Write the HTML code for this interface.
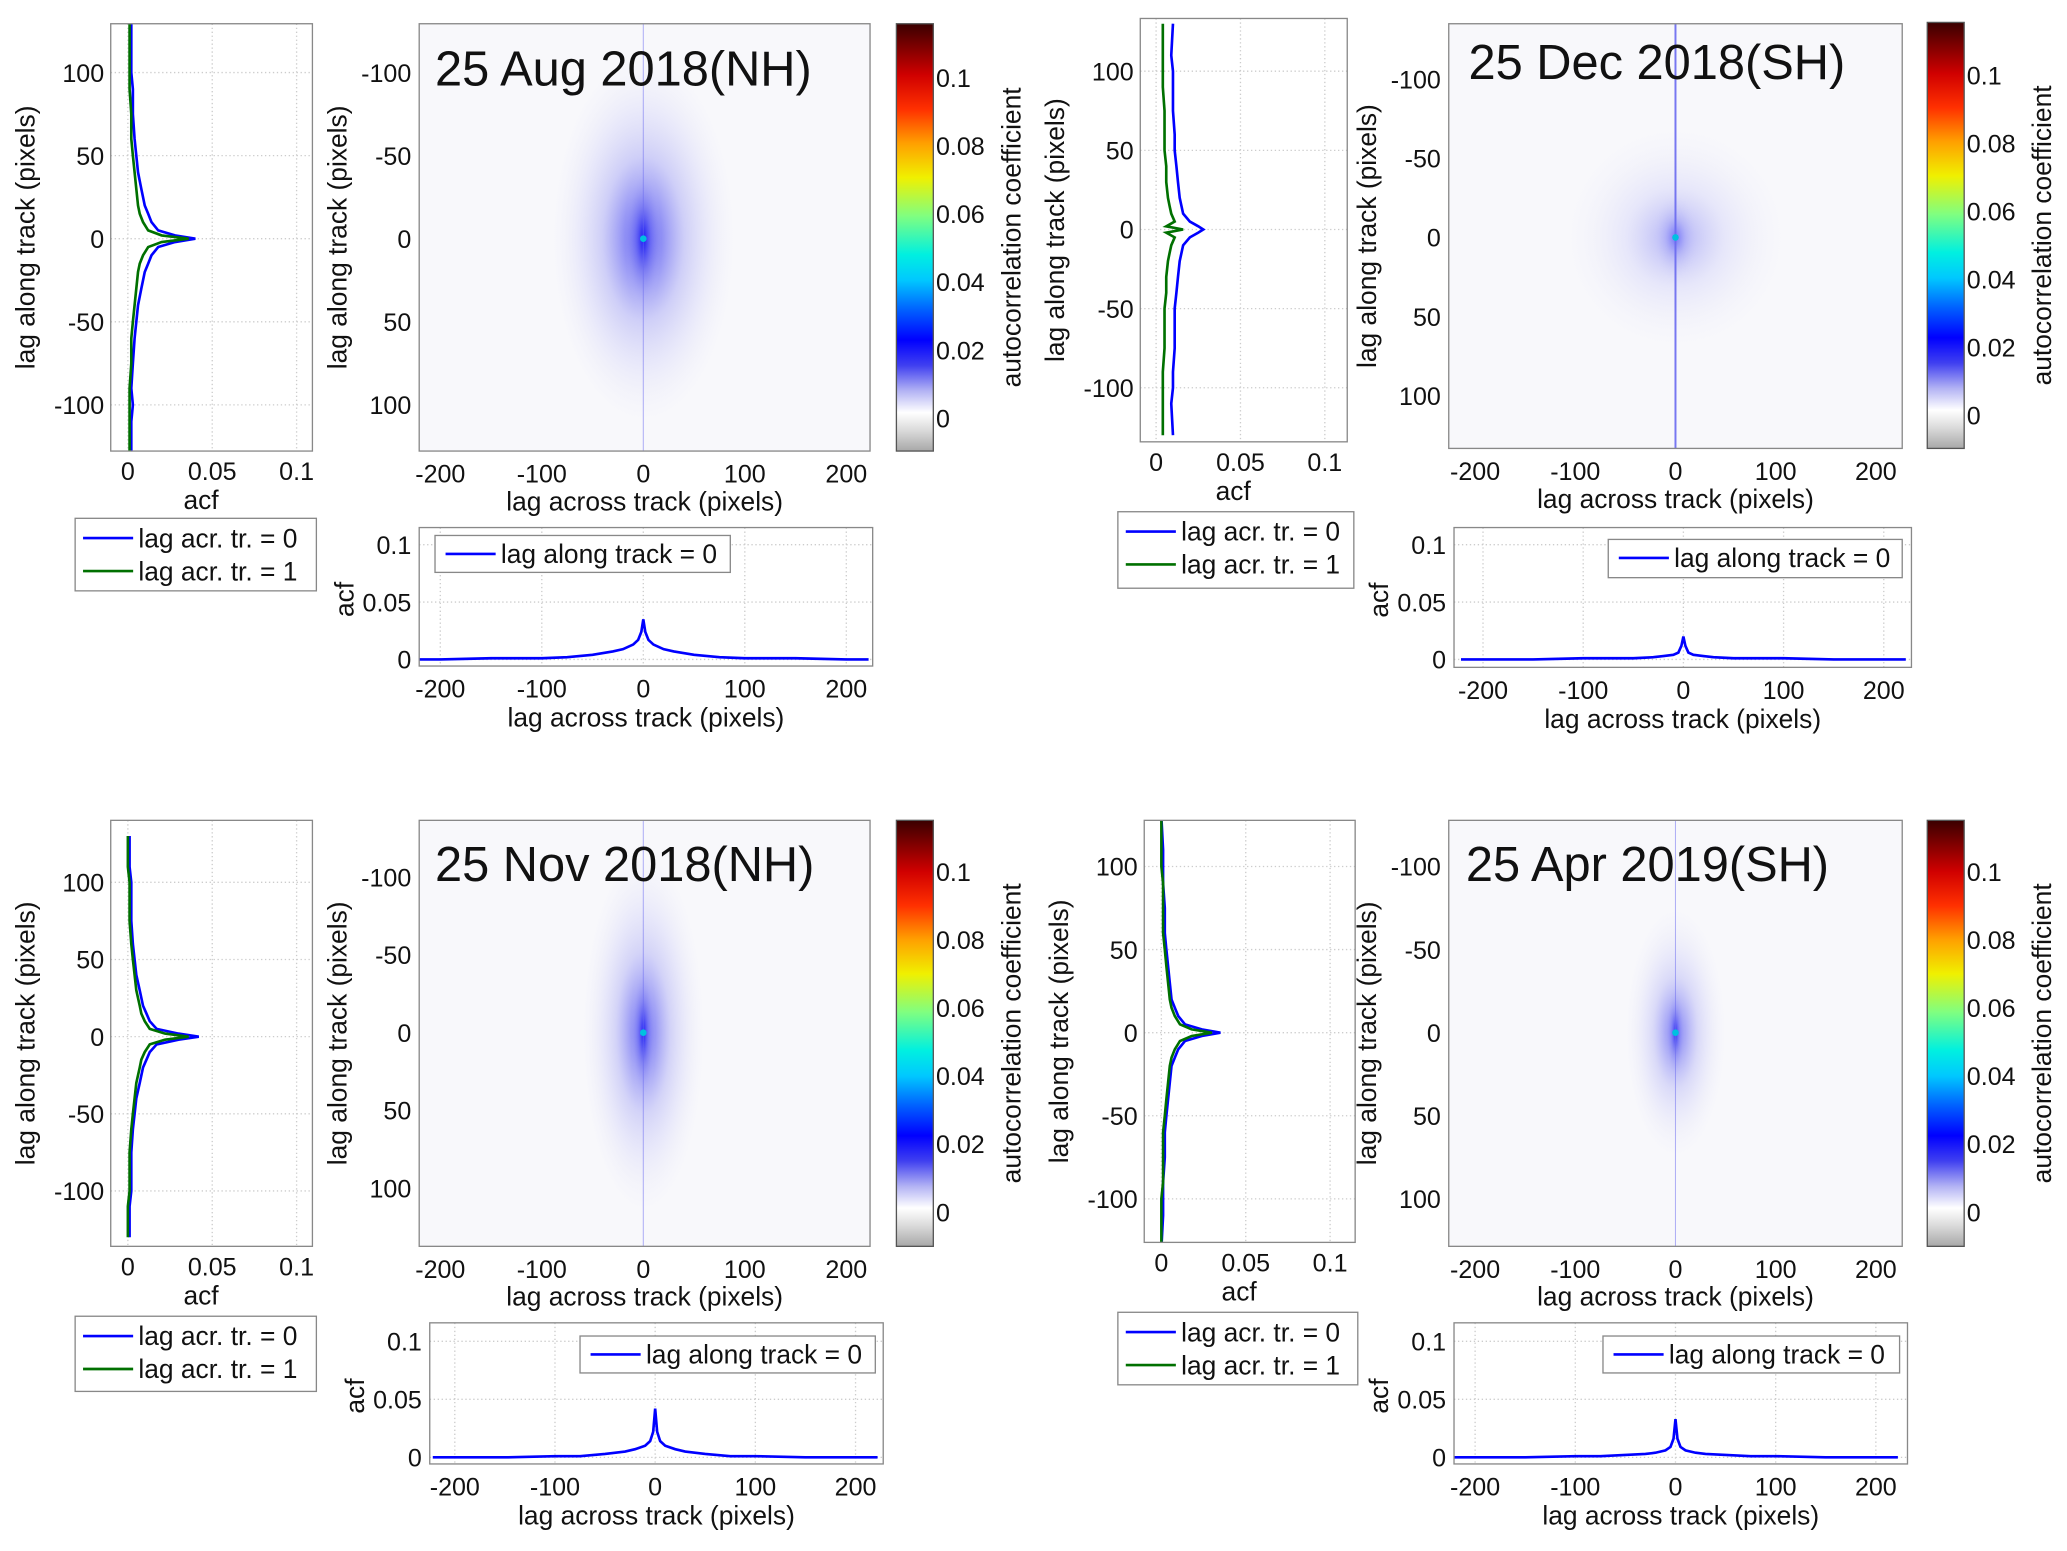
<!DOCTYPE html>
<html><head><meta charset="utf-8"><style>
html,body{margin:0;padding:0;background:#fff;}
svg{display:block;}
text{font-family:"Liberation Sans Narrow","Liberation Sans",sans-serif;fill:#111;}
.t{font-family:"Liberation Sans",sans-serif;}
</style></head><body>
<svg id="fig" width="2067" height="1551" viewBox="0 0 1568 1176" preserveAspectRatio="none" xmlns="http://www.w3.org/2000/svg">
<defs>
<linearGradient id="jet" x1="0" y1="1" x2="0" y2="0">
<stop offset="0" stop-color="#a8a8a8"/><stop offset="0.05" stop-color="#dcdcdc"/><stop offset="0.09" stop-color="#ffffff"/>
<stop offset="0.14" stop-color="#b4b4f4"/><stop offset="0.2" stop-color="#4040f0"/><stop offset="0.26" stop-color="#0000ff"/>
<stop offset="0.33" stop-color="#0060ff"/><stop offset="0.4" stop-color="#00c8ff"/><stop offset="0.46" stop-color="#00f0e0"/>
<stop offset="0.55" stop-color="#80ff80"/><stop offset="0.64" stop-color="#f0f000"/><stop offset="0.72" stop-color="#ffa000"/>
<stop offset="0.8" stop-color="#ff3000"/><stop offset="0.88" stop-color="#d00000"/><stop offset="1" stop-color="#3a0000"/>
</linearGradient>
<radialGradient id="blob">
<stop offset="0" stop-color="#1a1aff" stop-opacity="1"/><stop offset="0.15" stop-color="#3030f0" stop-opacity="0.8"/>
<stop offset="0.45" stop-color="#7070f0" stop-opacity="0.4"/><stop offset="0.75" stop-color="#a8a8f4" stop-opacity="0.18"/>
<stop offset="1" stop-color="#d0d0f8" stop-opacity="0"/>
</radialGradient>
</defs>
</svg>
<script>
// ---- data ----
const titles = ["25 Aug 2018(NH)","25 Dec 2018(SH)","25 Nov 2018(NH)","25 Apr 2019(SH)"];
const lagsAlong = [-130,-110,-100,-90,-75,-60,-50,-40,-30,-20,-15,-10,-5,-2,0,2,5,10,15,20,30,40,50,60,75,90,100,110,130];
const acfLag0 = [
 [0.002,0.002,0.003,0.002,0.003,0.004,0.005,0.006,0.008,0.010,0.012,0.014,0.018,0.028,0.040,0.028,0.018,0.014,0.012,0.010,0.008,0.006,0.005,0.004,0.003,0.003,0.002,0.002,0.002],
 [0.010,0.009,0.010,0.010,0.011,0.011,0.011,0.012,0.013,0.014,0.015,0.016,0.020,0.025,0.028,0.025,0.020,0.016,0.015,0.014,0.013,0.012,0.011,0.011,0.010,0.010,0.010,0.009,0.010],
 [0.001,0.001,0.002,0.002,0.002,0.003,0.004,0.005,0.007,0.009,0.011,0.013,0.017,0.030,0.042,0.030,0.017,0.013,0.011,0.009,0.007,0.005,0.004,0.003,0.002,0.002,0.002,0.001,0.001],
 [0.000,0.001,0.001,0.001,0.002,0.002,0.003,0.004,0.005,0.006,0.008,0.010,0.014,0.024,0.035,0.024,0.014,0.010,0.008,0.006,0.005,0.004,0.003,0.002,0.002,0.001,0.001,0.001,0.000]];
const acfLag1 = [
 [0.001,0.001,0.001,0.001,0.002,0.002,0.003,0.004,0.005,0.006,0.007,0.009,0.012,0.020,0.036,0.020,0.012,0.009,0.007,0.006,0.005,0.004,0.003,0.002,0.002,0.001,0.001,0.001,0.001],
 [0.004,0.004,0.004,0.004,0.005,0.005,0.005,0.006,0.006,0.007,0.008,0.009,0.011,0.006,0.016,0.006,0.011,0.009,0.008,0.007,0.006,0.006,0.005,0.005,0.005,0.004,0.004,0.004,0.004],
 [0.000,0.000,0.001,0.001,0.001,0.002,0.003,0.004,0.005,0.007,0.008,0.010,0.013,0.022,0.036,0.022,0.013,0.010,0.008,0.007,0.005,0.004,0.003,0.002,0.001,0.001,0.001,0.000,0.000],
 [0.000,0.000,0.000,0.001,0.001,0.001,0.002,0.003,0.004,0.005,0.006,0.008,0.011,0.018,0.030,0.018,0.011,0.008,0.006,0.005,0.004,0.003,0.002,0.001,0.001,0.001,0.000,0.000,0.000]];
const lagsAcross = [-222,-200,-150,-100,-75,-50,-30,-20,-10,-5,-2,0,2,5,10,20,30,50,75,100,150,200,222];
const acfAlong0 = [
 [0.000,0.000,0.001,0.001,0.002,0.004,0.007,0.009,0.013,0.017,0.024,0.035,0.024,0.017,0.013,0.009,0.007,0.004,0.002,0.001,0.001,0.000,0.000],
 [0.000,0.000,0.000,0.001,0.001,0.001,0.002,0.003,0.004,0.006,0.012,0.020,0.012,0.006,0.004,0.003,0.002,0.001,0.001,0.001,0.000,0.000,0.000],
 [0.000,0.000,0.000,0.001,0.001,0.003,0.005,0.007,0.010,0.014,0.022,0.042,0.022,0.014,0.010,0.007,0.005,0.003,0.001,0.001,0.000,0.000,0.000],
 [0.000,0.000,0.000,0.001,0.001,0.002,0.003,0.004,0.006,0.009,0.016,0.033,0.016,0.009,0.006,0.004,0.003,0.002,0.001,0.001,0.000,0.000,0.000]];
// blob extents (lag units): across, along, intensity
const blobAcross = [90,110,60,50];
const blobAlong = [110,70,115,75];
const blobStrength = [0.95,0.4,0.85,0.7];
const yTicksAlong = [-100,-50,0,50,100];
const xTicksAcross = [-200,-100,0,100,200];
const acfTicks = [0,0.05,0.1];
const cbTicks = [0,0.02,0.04,0.06,0.08,0.1];
const cbTickLabels = ["0","0.02","0.04","0.06","0.08","0.1"];

// ---- layout (display coords) ----
const P = [
 {L:{x0:84,x1:237,y0:18,y1:342,z:181,h:307,a0:97,a5:161}, H:{x0:318,x1:660,y0:18,y1:342,z:181,h:307,xz:488,x1h:565}, C:{x0:680,x1:708,y0:18,y1:342,z:317,t:59},
  B:{x0:318,x1:662,y0:400,y1:505,z:500,t:413,xz:488,x1h:565}, LG:{x:57,y:393,w:183,h:55}, BL:{x:330,y:406,w:224,h:28}, tt:{x:330,y:65}},
 {L:{x0:865,x1:1022,y0:14,y1:335,z:174,h:294,a0:877,a5:941}, H:{x0:1099,x1:1443,y0:18,y1:340,z:180,h:300,xz:1271,x1h:1347}, C:{x0:1462,x1:1490,y0:17,y1:340,z:315,t:57},
  B:{x0:1103,x1:1450,y0:400,y1:506,z:500,t:413,xz:1277,x1h:1353}, LG:{x:848,y:388,w:179,h:58}, BL:{x:1220,y:409,w:223,h:29}, tt:{x:1114,y:60}},
 {L:{x0:84,x1:237,y0:622,y1:945,z:786,h:903,a0:97,a5:161}, H:{x0:318,x1:660,y0:622,y1:945,z:783,h:901,xz:488,x1h:565}, C:{x0:680,x1:708,y0:622,y1:945,z:919,t:661},
  B:{x0:326,x1:670,y0:1003,y1:1110,z:1105,t:1017,xz:497,x1h:573}, LG:{x:57,y:998,w:183,h:57}, BL:{x:440,y:1013,w:224,h:28}, tt:{x:330,y:668}},
 {L:{x0:868,x1:1028,y0:622,y1:942,z:783,h:909,a0:881,a5:945}, H:{x0:1099,x1:1443,y0:622,y1:945,z:783,h:909,xz:1271,x1h:1347}, C:{x0:1462,x1:1490,y0:622,y1:945,z:919,t:661},
  B:{x0:1103,x1:1447,y0:1003,y1:1110,z:1105,t:1017,xz:1271,x1h:1347}, LG:{x:848,y:995,w:182,h:55}, BL:{x:1216,y:1013,w:225,h:28}, tt:{x:1112,y:668}}
];
const svg = document.getElementById('fig');
const NS = 'http://www.w3.org/2000/svg';
function mk(tag, attrs, parent){const e=document.createElementNS(NS,tag);for(const k in attrs)e.setAttribute(k,attrs[k]);(parent||svg).appendChild(e);return e;}
function txt(s,x,y,size,anchor,parent,extra){const e=mk('text',Object.assign({x:x,y:y,'font-size':size,'text-anchor':anchor||'start'},extra||{}),parent);e.textContent=s;return e;}
function box(b,g){mk('rect',{x:b.x0,y:b.y0,width:b.x1-b.x0,height:b.y1-b.y0,fill:'none',stroke:'#888','stroke-width':1},g);}

P.forEach((p,i)=>{
  const g = mk('g',{});
  
  
  // ---------- left acf profile (100 at top) ----------
  const L=p.L; const ly=v=>L.z+(L.h-L.z)*(v/-100); const lx=v=>L.a0+(L.a5-L.a0)*(v/0.05);
  const gl=mk('g',{},g);
  
  
  mk('rect',{x:L.x0,y:L.y0,width:L.x1-L.x0,height:L.y1-L.y0,fill:'#fff'},gl);
  yTicksAlong.forEach(v=>{const y=ly(v);mk('line',{x1:L.x0,x2:L.x1,y1:y,y2:y,stroke:'#ccc','stroke-dasharray':'1,2'},gl);
    const t=txt(String(v),L.x0-5,y+7,19,'end',gl);});
  acfTicks.forEach(v=>{const x=lx(v);mk('line',{x1:x,x2:x,y1:L.y0,y2:L.y1,stroke:'#ccc','stroke-dasharray':'1,2'},gl);
    const t=txt(String(v),x,L.y1+22,19,'middle',gl);});
  const cl=mk('clipPath',{id:'cl'+i},gl);mk('rect',{x:L.x0,y:L.y0,width:L.x1-L.x0,height:L.y1-L.y0},cl);
  const ptsB=lagsAlong.map((lag,k)=>lx(acfLag0[i][k]).toFixed(1)+','+ly(lag).toFixed(1)).join(' ');
  const ptsG=lagsAlong.map((lag,k)=>lx(acfLag1[i][k]).toFixed(1)+','+ly(lag).toFixed(1)).join(' ');
  const lb=mk('polyline',{points:ptsB,fill:'none',stroke:'#0000ff','stroke-width':2,'clip-path':'url(#cl'+i+')'},gl);
  
  
  const lg=mk('polyline',{points:ptsG,fill:'none',stroke:'#007000','stroke-width':2,'clip-path':'url(#cl'+i+')'},gl);
  
  
  box(L,gl);
  const yl=txt('lag along track (pixels)',0,0,20,'middle',gl,{transform:'translate('+(L.x0-58)+','+((L.y0+L.y1)/2)+') rotate(-90)'});
  
  
  const xl=txt('acf',(L.x0+L.x1)/2-8,L.y1+44,20,'middle',gl);
  
  
  // legend
  const LG=p.LG; const lgG=mk('g',{},g);
  
  
  mk('rect',{x:LG.x,y:LG.y,width:LG.w,height:LG.h,fill:'#fff',stroke:'#888'},lgG);
  mk('line',{x1:LG.x+6,x2:LG.x+44,y1:LG.y+15,y2:LG.y+15,stroke:'#0000ff','stroke-width':2},lgG);
  mk('line',{x1:LG.x+6,x2:LG.x+44,y1:LG.y+40,y2:LG.y+40,stroke:'#007000','stroke-width':2},lgG);
  const e1=txt('lag acr. tr. = 0',LG.x+48,LG.y+22,20,'start',lgG);
  const e2=txt('lag acr. tr. = 1',LG.x+48,LG.y+47,20,'start',lgG);

  // ---------- heatmap ----------
  const H=p.H; const hx=v=>H.xz+(H.x1h-H.xz)*(v/100); const hy=v=>H.z+(H.h-H.z)*(v/100);
  const gh=mk('g',{},g);
  
  
  mk('rect',{x:H.x0,y:H.y0,width:H.x1-H.x0,height:H.y1-H.y0,fill:'#f8f8fb'},gh);
  const ch=mk('clipPath',{id:'ch'+i},gh);mk('rect',{x:H.x0,y:H.y0,width:H.x1-H.x0,height:H.y1-H.y0},ch);
  const bl=mk('ellipse',{cx:hx(0),cy:hy(0),rx:Math.abs(hx(blobAcross[i])-hx(0)),ry:Math.abs(hy(blobAlong[i])-hy(0)),fill:'url(#blob)',opacity:blobStrength[i]*0.8,'clip-path':'url(#ch'+i+')'},gh);
  
  
  mk('ellipse',{cx:hx(0),cy:hy(0),rx:Math.abs(hx(blobAcross[i]*0.2)-hx(0)),ry:Math.abs(hy(blobAlong[i]*0.4)-hy(0)),fill:'url(#blob)',opacity:blobStrength[i]},gh);
  mk('line',{x1:hx(0),x2:hx(0),y1:H.y0,y2:H.y1,stroke:'#6a6af0','stroke-width':i==1?1.5:0.8,opacity:i==1?0.9:0.5},gh);
  mk('circle',{cx:hx(0),cy:hy(0),r:2.5,fill:'#00c0e0'},gh);
  box(H,gh);
  yTicksAlong.forEach(v=>{const y=hy(v);
    const t=txt(String(v),H.x0-6,y+7,19,'end',gh);});
  xTicksAcross.forEach(v=>{const x=hx(v);
    const t=txt(String(v),x,H.y1+24,19,'middle',gh);});
  const hyl=txt('lag along track (pixels)',0,0,20,'middle',gh,{transform:'translate('+(H.x0-55)+','+((H.y0+H.y1)/2)+') rotate(-90)'});
  
  
  const hxl=txt('lag across track (pixels)',(H.x0+H.x1)/2,H.y1+45,20,'middle',gh);
  
  
  const tt=txt(titles[i],p.tt.x,p.tt.y,37,'start',gh,{class:'t'});
  
  

  // ---------- colorbar ----------
  const C=p.C; const cy=v=>C.z+(C.t-C.z)*(v/0.1);
  const gc=mk('g',{},g);
  
  
  mk('rect',{x:C.x0,y:C.y0,width:C.x1-C.x0,height:C.y1-C.y0,fill:'url(#jet)',stroke:'#555'},gc);
  cbTicks.forEach((v,k)=>{const y=cy(v);
    const t=txt(cbTickLabels[k],C.x1+2,y+7,19,'start',gc);});
  const cl2=txt('autocorrelation coefficient',0,0,20,'middle',gc,{transform:'translate('+(C.x1+66)+','+((C.y0+C.y1)/2)+') rotate(-90)'});
  
  

  // ---------- bottom acf ----------
  const B=p.B; const bx=v=>B.xz+(B.x1h-B.xz)*(v/100); const by=v=>B.z+(B.t-B.z)*(v/0.1);
  const gb=mk('g',{},g);
  
  
  mk('rect',{x:B.x0,y:B.y0,width:B.x1-B.x0,height:B.y1-B.y0,fill:'#fff'},gb);
  xTicksAcross.forEach(v=>{const x=bx(v);mk('line',{x1:x,x2:x,y1:B.y0,y2:B.y1,stroke:'#ccc','stroke-dasharray':'1,2'},gb);
    const t=txt(String(v),x,B.y1+24,19,'middle',gb);});
  acfTicks.forEach(v=>{const y=by(v);mk('line',{x1:B.x0,x2:B.x1,y1:y,y2:y,stroke:'#ccc','stroke-dasharray':'1,2'},gb);
    const t=txt(String(v),B.x0-6,y+7,19,'end',gb);});
  const cb=mk('clipPath',{id:'cb'+i},gb);mk('rect',{x:B.x0,y:B.y0,width:B.x1-B.x0,height:B.y1-B.y0},cb);
  const ptsA=lagsAcross.map((lag,k)=>bx(lag).toFixed(1)+','+by(acfAlong0[i][k]).toFixed(1)).join(' ');
  const la=mk('polyline',{points:ptsA,fill:'none',stroke:'#0000ff','stroke-width':2,'clip-path':'url(#cb'+i+')'},gb);
  
  
  box(B,gb);
  const byl=txt('acf',0,0,20,'middle',gb,{transform:'translate('+(B.x0-50)+','+((B.y0+B.y1)/2+2)+') rotate(-90)'});
  
  
  const bxl=txt('lag across track (pixels)',(B.x0+B.x1)/2,B.y1+46,20,'middle',gb);
  
  
  const BL=p.BL; const blg=mk('g',{},gb);
  
  
  mk('rect',{x:BL.x,y:BL.y,width:BL.w,height:BL.h,fill:'#fff',stroke:'#888'},blg);
  mk('line',{x1:BL.x+8,x2:BL.x+46,y1:BL.y+14,y2:BL.y+14,stroke:'#0000ff','stroke-width':2},blg);
  const e3=txt('lag along track = 0',BL.x+50,BL.y+21,20,'start',blg);
});
</script>
</body></html>
